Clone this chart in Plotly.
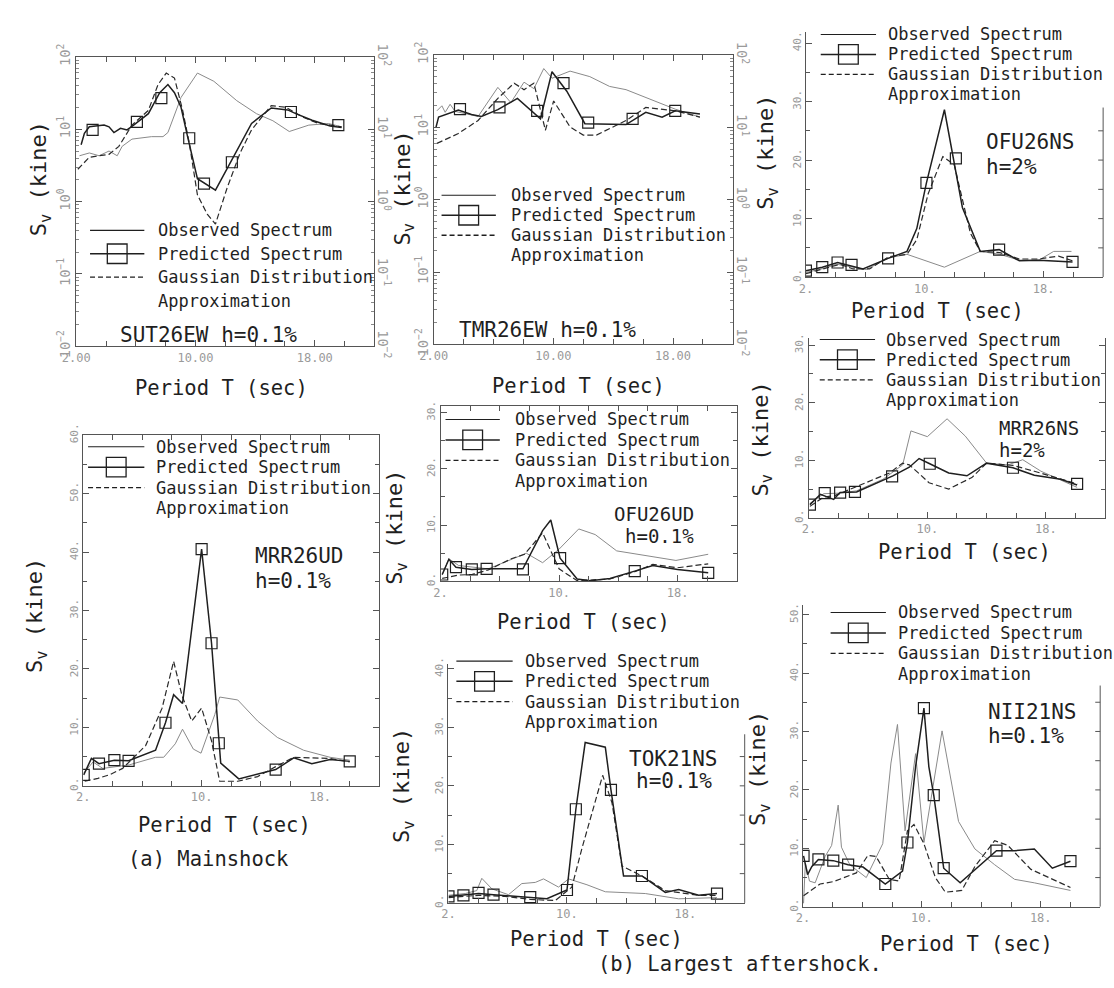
import plotly.graph_objects as go

W, H = 1114, 988
FONT = "DejaVu Sans Mono"
INK = "#1f1f1f"
OBS_C = "#8a8a8a"
AX_C = "#555555"
TICK_C = "#9a9a9a"

# ---------------- data (T in sec, Sv in kine) ----------------
# (a) Mainshock
sut_obs_T = [2.22, 2.88, 3.54, 4.20, 4.75, 5.08, 5.74, 7.05, 7.82, 8.15, 9.03, 10.13, 11.23, 12.77, 14.09, 15.19, 16.29, 17.60, 18.92, 19.80]
sut_obs_v = [4.3, 4.7, 4.3, 5.0, 4.3, 5.8, 7.3, 7.9, 7.9, 9.0, 27.5, 59.7, 46, 24.8, 16.4, 13.1, 9.3, 11.4, 12.0, 10.8]
sut_pred_T = [2.33, 2.55, 2.88, 3.87, 4.20, 4.53, 4.97, 5.41, 5.85, 6.84, 7.60, 8.15, 8.59, 9.03, 9.47, 10.13, 11.34, 12.33, 13.76, 15.08, 16.18, 16.73, 17.82, 19.03, 19.80]
sut_pred_v = [6.1, 8.8, 10.8, 11.4, 10.8, 9.0, 10.3, 9.8, 11.4, 16.4, 32, 41.5, 32, 20.1, 7.9, 2.07, 1.44, 3.5, 12.0, 19.7, 18.5, 16.4, 13.3, 11.1, 10.6]
sut_sq_T = [3.10, 6.07, 7.71, 9.58, 10.57, 12.44, 16.40, 19.58]
sut_sq_v = [9.8, 12.6, 26.9, 7.5, 1.77, 3.5, 17.3, 11.4]
sut_gau_T = [2.11, 2.88, 3.54, 4.20, 4.86, 5.74, 6.84, 7.49, 8.04, 8.59, 9.14, 9.58, 10.13, 10.79, 11.34, 12.11, 12.99, 13.76, 15.08, 16.07, 17.16, 18.26, 19.80]
sut_gau_v = [2.8, 4.1, 4.3, 4.5, 5.8, 11.4, 18.2, 41.5, 59.7, 51, 18.2, 6.5, 1.24, 0.67, 0.49, 1.52, 4.7, 9.8, 21.2, 20.1, 14.8, 12.0, 10.8]

tmr_obs_T = [2.22, 2.55, 2.77, 3.10, 3.43, 4.97, 6.29, 7.16, 8.04, 8.70, 9.36, 9.91, 11.12, 12.44, 13.76, 14.86, 18.15, 19.80]
tmr_obs_v = [16.9, 19.8, 16.1, 20.8, 16.6, 14.1, 35.6, 21.9, 42, 34.2, 64.8, 47.6, 59.7, 50.1, 36.7, 33.1, 17.8, 13.8]
tmr_pred_T = [2.15, 2.33, 3.65, 4.53, 5.19, 6.29, 7.60, 9.14, 9.91, 10.90, 12.11, 14.86, 16.18, 17.27, 18.15, 19.80]
tmr_pred_v = [9.9, 13.8, 17.3, 15.0, 14.1, 17.5, 25.1, 13.1, 58.5, 31.5, 11.2, 10.9, 16.1, 13.8, 16.9, 15.3]
tmr_sq_T = [3.76, 6.40, 8.92, 10.68, 12.33, 15.30, 18.15]
tmr_sq_v = [17.8, 18.8, 16.9, 40.7, 11.6, 13.1, 16.9]
tmr_gau_T = [2.22, 3.65, 4.97, 6.29, 7.38, 8.04, 8.70, 9.47, 10.02, 11.12, 12.0, 12.88, 14.86, 16.18, 18.15, 19.80]
tmr_gau_v = [6.0, 8.2, 12.4, 25.1, 40.7, 33.1, 40.7, 9.1, 23.1, 10.1, 7.8, 7.8, 12.4, 18.8, 16.9, 13.8]

mrrud_obs_T = [2.04, 2.67, 3.33, 4.22, 5.11, 6.89, 7.44, 8.22, 8.71, 9.44, 9.96, 10.89, 11.22, 12.44, 13.78, 15.11, 16.89, 18.67, 20.0]
mrrud_obs_v = [2.2, 4.1, 3.0, 3.3, 3.6, 4.9, 4.9, 7.2, 9.7, 6.3, 5.6, 12.2, 15.2, 14.7, 11.1, 8.3, 6.1, 4.9, 4.4]
mrrud_pred_T = [2.04, 2.56, 3.07, 4.11, 5.07, 6.89, 7.56, 8.11, 8.71, 10.0, 10.67, 11.16, 11.29, 12.51, 15.0, 16.22, 17.44, 18.67, 20.0]
mrrud_pred_v = [1.9, 4.7, 3.8, 4.4, 4.3, 6.1, 10.8, 15.6, 14.1, 40.5, 24.4, 7.3, 3.9, 1.2, 2.8, 4.8, 3.8, 4.5, 4.2]
mrrud_sq_T = [2.04, 3.07, 4.11, 5.07, 7.56, 10.0, 10.67, 11.16, 15.0, 20.0]
mrrud_sq_v = [1.9, 3.8, 4.4, 4.3, 10.8, 40.5, 24.4, 7.3, 2.8, 4.2]
mrrud_gau_T = [2.11, 3.0, 3.78, 4.67, 6.22, 7.33, 8.11, 8.67, 9.33, 10.0, 10.67, 11.22, 12.44, 13.78, 15.0, 16.22, 18.67, 20.0]
mrrud_gau_v = [0.8, 1.3, 1.9, 3.0, 6.9, 13.3, 21.3, 15.5, 11.1, 13.3, 7.7, 0.8, 0.8, 1.6, 3.3, 4.9, 4.7, 4.1]

# (b) Largest aftershock
ofuns_obs_T = [2.0, 3.21, 4.08, 5.18, 6.06, 7.59, 8.80, 11.32, 13.73, 15.05, 16.36, 17.68, 18.67, 19.87]
ofuns_obs_v = [0.8, 1.5, 2.2, 1.7, 1.3, 3.3, 3.9, 1.7, 4.4, 3.9, 2.9, 2.9, 4.4, 4.4]
ofuns_pred_T = [2.0, 3.10, 4.13, 5.07, 5.84, 7.53, 8.80, 9.46, 10.11, 11.32, 12.53, 13.73, 15.0, 16.36, 17.68, 19.94]
ofuns_pred_v = [1.1, 1.7, 2.5, 1.9, 1.4, 3.2, 4.4, 8.3, 16.1, 28.6, 11.9, 4.4, 4.7, 2.8, 2.9, 2.6]
ofuns_sq_T = [2.0, 3.10, 4.13, 5.07, 7.53, 10.11, 12.09, 15.0, 19.94]
ofuns_sq_v = [1.1, 1.7, 2.5, 2.1, 3.2, 16.1, 20.3, 4.7, 2.6]
ofuns_gau_T = [2.0, 3.21, 4.30, 5.18, 6.28, 7.59, 8.80, 9.46, 10.22, 11.21, 11.98, 13.07, 13.73, 15.05, 16.36, 17.68, 19.0, 19.94]
ofuns_gau_v = [0.6, 1.4, 2.2, 1.4, 1.4, 3.5, 3.9, 6.4, 14.2, 20.6, 19.2, 7.5, 4.4, 4.2, 3.1, 3.1, 3.6, 2.8]

ofuud_obs_T = [2.11, 2.56, 3.22, 5.22, 7.44, 7.78, 8.89, 10.0, 11.33, 12.44, 13.89, 15.67, 17.89, 20.07]
ofuud_obs_v = [1.1, 4.0, 2.8, 2.2, 4.6, 5.0, 3.3, 5.7, 9.3, 8.3, 5.4, 4.6, 3.7, 4.8]
ofuud_pred_T = [2.11, 2.56, 3.04, 4.11, 5.11, 7.56, 8.89, 9.44, 10.07, 11.22, 12.11, 13.44, 15.11, 16.33, 18.0, 20.07]
ofuud_pred_v = [1.2, 3.9, 2.5, 2.1, 2.2, 2.2, 9.0, 10.9, 4.1, 0.4, 0.1, 0.5, 1.8, 2.8, 2.1, 1.5]
ofuud_sq_T = [2.11, 3.04, 4.11, 5.11, 7.56, 10.07, 15.11, 20.07]
ofuud_sq_v = [1.2, 2.5, 2.1, 2.2, 2.1, 4.1, 1.8, 1.5]
ofuud_gau_T = [2.11, 3.22, 4.11, 5.22, 6.78, 7.67, 8.89, 10.0, 11.22, 13.44, 15.11, 16.33, 18.0, 20.07]
ofuud_gau_v = [0.5, 1.1, 1.2, 2.0, 4.0, 4.8, 8.6, 2.2, 0.1, 0.4, 1.7, 3.0, 2.4, 3.1]

mrrns_obs_T = [2.07, 3.0, 4.11, 5.22, 7.0, 8.33, 8.89, 10.0, 11.33, 12.56, 14.0, 15.44, 16.44, 17.67, 20.11]
mrrns_obs_v = [2.5, 4.2, 4.3, 4.7, 6.7, 9.2, 15.1, 14.1, 17.2, 14.2, 9.5, 9.2, 10.1, 8.1, 5.3]
mrrns_pred_T = [2.07, 2.78, 3.67, 4.11, 5.22, 7.67, 8.78, 9.44, 10.16, 11.44, 12.67, 14.0, 15.78, 17.22, 19.0, 20.11]
mrrns_pred_v = [2.3, 4.1, 3.2, 4.4, 4.5, 7.3, 8.8, 10.3, 9.4, 7.8, 7.3, 9.5, 8.7, 7.4, 6.7, 5.7]
mrrns_sq_T = [2.07, 3.07, 4.11, 5.11, 7.62, 10.16, 15.78, 20.11]
mrrns_sq_v = [2.3, 4.3, 4.4, 4.5, 7.2, 9.4, 8.7, 5.9]
mrrns_gau_T = [2.07, 3.0, 3.78, 4.33, 5.89, 7.44, 8.33, 8.78, 9.44, 10.11, 11.44, 13.0, 14.0, 15.78, 17.22, 19.0, 20.11]
mrrns_gau_v = [2.0, 3.6, 3.9, 4.5, 6.1, 7.8, 9.5, 9.2, 7.7, 6.1, 5.0, 7.0, 9.5, 9.1, 8.1, 6.7, 5.9]

tok_obs_T = [2.0, 3.13, 3.91, 4.25, 4.93, 6.05, 6.95, 7.86, 8.42, 9.43, 10.11, 11.35, 12.59, 15.29, 17.54, 20.13]
tok_obs_v = [1.3, 1.6, 2.1, 4.2, 2.4, 1.4, 3.3, 3.5, 4.1, 2.7, 4.1, 3.1, 1.9, 1.6, 0.7, 0.9]
tok_pred_T = [2.0, 3.01, 4.03, 5.04, 7.52, 8.64, 10.0, 10.60, 11.23, 12.59, 12.97, 13.82, 15.06, 16.64, 17.54, 18.89, 20.13]
tok_pred_v = [1.1, 1.3, 1.6, 1.4, 0.9, 0.7, 2.2, 16.0, 27.4, 26.6, 19.3, 4.6, 4.6, 1.8, 2.3, 1.3, 1.6]
tok_sq_T = [2.0, 3.01, 4.03, 5.04, 7.52, 10.0, 10.60, 12.97, 15.06, 20.13]
tok_sq_v = [1.1, 1.3, 1.7, 1.4, 1.0, 2.2, 16.0, 19.3, 4.6, 1.6]
tok_gau_T = [2.0, 4.03, 5.83, 7.52, 9.21, 10.33, 11.01, 11.68, 12.41, 13.04, 13.71, 15.06, 16.64, 18.89, 20.13]
tok_gau_v = [0.9, 1.3, 1.1, 0.6, 0.4, 2.7, 9.3, 15.4, 21.8, 17.1, 6.3, 4.6, 2.1, 1.3, 1.3]

nii_obs_T = [2.04, 2.16, 2.44, 2.82, 3.49, 3.93, 4.37, 4.59, 5.15, 6.26, 7.37, 7.92, 8.36, 8.87, 9.58, 10.14, 11.36, 12.47, 13.57, 14.90, 16.24, 17.57, 20.0]
nii_obs_v = [0.6, 7.5, 4.4, 4.1, 8.6, 10.5, 17.4, 10.2, 7.2, 5.0, 10.8, 24.6, 31.2, 13.0, 26.2, 11.0, 30.1, 14.6, 9.9, 7.2, 4.7, 4.1, 2.8]
nii_pred_T = [2.04, 2.31, 2.60, 3.04, 4.04, 5.04, 6.04, 7.54, 8.70, 9.03, 9.58, 10.14, 10.47, 10.80, 11.47, 12.58, 15.02, 16.24, 17.57, 18.78, 20.0]
nii_pred_v = [8.7, 5.5, 6.9, 8.1, 7.9, 7.2, 6.8, 3.9, 6.1, 11.0, 24.0, 34.0, 24.0, 19.1, 6.6, 4.1, 9.6, 9.6, 9.9, 6.6, 7.8]
nii_sq_T = [2.04, 3.04, 4.04, 5.04, 7.54, 9.03, 10.14, 10.80, 11.47, 15.02, 20.0]
nii_sq_v = [8.7, 8.1, 7.9, 7.2, 3.9, 11.0, 34.0, 19.1, 6.6, 9.6, 7.8]
nii_gau_T = [2.04, 2.38, 3.15, 4.04, 5.59, 6.37, 6.92, 7.81, 8.47, 9.03, 9.47, 10.14, 10.91, 11.58, 12.69, 13.57, 14.90, 15.79, 17.34, 20.0]
nii_gau_v = [1.9, 2.5, 3.9, 4.3, 5.8, 8.8, 8.6, 4.7, 4.4, 13.0, 14.1, 10.8, 5.0, 2.5, 2.8, 6.9, 11.3, 10.5, 6.4, 3.3]

x_tick_vals = [2, 10, 18]
legend_labels = ["Observed Spectrum", "Predicted Spectrum", "Gaussian Distribution", "Approximation"]
x_title = "Period T (sec)"
y_title = "S<sub>v</sub> (kine)"

# ---------------- layout description (pixels) ----------------
# lab = (x, y of first line, anchor, line spacing, font size)
# rseg: top pixel of a partial right-hand frame line (None = no extra segment)
PANELS = [
    dict(station=["SUT26EW h=0.1%"], log=True, box=(63, 45, 365, 342), yr=(-2, 2),
         data=(sut_obs_T, sut_obs_v, sut_pred_T, sut_pred_v, sut_sq_T, sut_sq_v, sut_gau_T, sut_gau_v),
         leg=(77, 132, 146, 223, 24), lab=(197, 330, "center", 26, 21),
         xt=(210, 385), yt=(27, 170), mx=True, my=True, rseg=None),
    dict(station=["TMR26EW h=0.1%"], log=True, box=(425, 43, 728, 340), yr=(-2, 2),
         data=(tmr_obs_T, tmr_obs_v, tmr_pred_T, tmr_pred_v, tmr_sq_T, tmr_sq_v, tmr_gau_T, tmr_gau_v),
         leg=(433, 488, 503, 187, 20.5), lab=(540, 325, "center", 26, 21),
         xt=(572, 383), yt=(395, 180), mx=True, my=True, rseg=None),
    dict(station=["OFU26NS", "h=2%"], log=False, box=(802, 20, 1103, 271), yr=(0, 41.8),
         data=(ofuns_obs_T, ofuns_obs_v, ofuns_pred_T, ofuns_pred_v, ofuns_sq_T, ofuns_sq_v, ofuns_gau_T, ofuns_gau_v),
         leg=(817, 873, 885, 22, 20.5), lab=(983, 132, "left", 26, 21),
         xt=(935, 306), yt=(763, 143), mx=False, my=False, rseg=97),
    dict(station=["MRR26UD", "h=0.1%"], log=False, box=(70, 433, 370, 793), yr=(0, 60),
         data=(mrrud_obs_T, mrrud_obs_v, mrrud_pred_T, mrrud_pred_v, mrrud_sq_T, mrrud_sq_v, mrrud_gau_T, mrrud_gau_v),
         leg=(75, 132, 144, 445, 21), lab=(243, 557, "left", 26, 21),
         xt=(213, 833), yt=(23, 618), mx=True, my=True, rseg=None),
    dict(station=["OFU26UD", "h=0.1%"], log=False, box=(432, 403, 732, 583), yr=(0, 31.2),
         data=(ofuud_obs_T, ofuud_obs_v, ofuud_pred_T, ofuud_pred_v, ofuud_sq_T, ofuud_sq_v, ofuud_gau_T, ofuud_gau_v),
         leg=(437, 492, 507, 417, 21), lab=(690, 514, "right", 23, 19),
         xt=(577, 625), yt=(388, 528), mx=True, my=True, rseg=None),
    dict(station=["MRR26NS", "h=2%"], log=False, box=(805, 333, 1105, 518), yr=(0, 31.3),
         data=(mrrns_obs_T, mrrns_obs_v, mrrns_pred_T, mrrns_pred_v, mrrns_sq_T, mrrns_sq_v, mrrns_gau_T, mrrns_gau_v),
         leg=(816, 872, 883, 335, 20.7), lab=(997, 426, "left", 22, 19),
         xt=(963, 553), yt=(758, 437), mx=False, my=True, rseg=None),
    dict(station=["TOK21NS", "h=0.1%"], log=False, box=(440, 668, 740, 913), yr=(0, 40.8),
         data=(tok_obs_T, tok_obs_v, tok_pred_T, tok_pred_v, tok_sq_T, tok_sq_v, tok_gau_T, tok_gau_v),
         leg=(448, 505, 518, 665, 20.7), lab=(668, 765, "center", 23, 21),
         xt=(590, 950), yt=(395, 793), mx=False, my=False, rseg=740),
    dict(station=["NII21NS", "h=0.1%"], log=False, box=(799, 607, 1100, 917), yr=(0, 51.7),
         data=(nii_obs_T, nii_obs_v, nii_pred_T, nii_pred_v, nii_sq_T, nii_sq_v, nii_gau_T, nii_gau_v),
         leg=(827, 883, 895, 615, 21), lab=(985, 717, "left", 25, 21),
         xt=(965, 955), yt=(755, 775), mx=False, my=False, rseg=690),
]


def fx(x):
    return x / W


def fy(y):
    return 1 - y / H


fig = go.Figure()
annotations = []
shapes = []
layout_axes = {}
LOG_ALIAS = {"1": "10<sup>0</sup>", "10": "10<sup>1</sup>"}

for i, p in enumerate(PANELS, start=1):
    xr = "x" if i == 1 else f"x{i}"
    yr_ = "y" if i == 1 else f"y{i}"
    xa = "xaxis" if i == 1 else f"xaxis{i}"
    ya = "yaxis" if i == 1 else f"yaxis{i}"
    x0, y0, x1, y1 = p["box"]
    obsT, obsV, prT, prV, sqT, sqV, gaT, gaV = p["data"]

    fig.add_trace(go.Scatter(x=obsT, y=obsV, xaxis=xr, yaxis=yr_, mode="lines",
                             line=dict(color=OBS_C, width=1), name="Observed Spectrum", showlegend=False))
    fig.add_trace(go.Scatter(x=gaT, y=gaV, xaxis=xr, yaxis=yr_, mode="lines",
                             line=dict(color="#2a2a2a", width=1.2, dash="6px,3px"),
                             name="Gaussian Distribution Approximation", showlegend=False))
    fig.add_trace(go.Scatter(x=prT, y=prV, xaxis=xr, yaxis=yr_, mode="lines",
                             line=dict(color=INK, width=1.5), name="Predicted Spectrum", showlegend=False))
    fig.add_trace(go.Scatter(x=sqT, y=sqV, xaxis=xr, yaxis=yr_, mode="markers",
                             marker=dict(symbol="square-open", size=11, color=INK, line=dict(width=1.2)),
                             name="Predicted Spectrum", showlegend=False))

    if p["log"]:
        xtext = [f"{v:.2f}" for v in x_tick_vals]
    else:
        xtext = [f"{v}." for v in x_tick_vals]
    xdict = dict(domain=[fx(x0), fx(x1)], anchor=yr_, range=[2, 22],
                 tickmode="array", tickvals=x_tick_vals, ticktext=xtext,
                 ticks="inside", ticklen=6, tickcolor=AX_C,
                 minor=dict(tickmode="linear", tick0=2, dtick=2, ticks="inside", ticklen=5, tickcolor=AX_C),
                 showline=True, linecolor=AX_C, linewidth=1,
                 mirror="ticks" if p["mx"] else False,
                 showgrid=False, zeroline=False,
                 tickfont=dict(family=FONT, size=12, color=TICK_C))
    layout_axes[xa] = xdict

    ydict = dict(domain=[fy(y1), fy(y0)], anchor=xr,
                 showline=True, linecolor=AX_C, linewidth=1,
                 mirror="ticks" if p["my"] else False,
                 showgrid=False, zeroline=False, tickangle=-90,
                 ticks="inside", ticklen=6, tickcolor=AX_C,
                 tickfont=dict(family=FONT, size=11, color=TICK_C))
    if p["log"]:
        ydict.update(type="log", range=list(p["yr"]), dtick=1, exponentformat="power",
                     labelalias=LOG_ALIAS,
                     minor=dict(dtick="D1", ticks="inside", ticklen=3, tickcolor="#888"))
    else:
        ydict.update(range=list(p["yr"]), tick0=0, dtick=10, ticksuffix=".",
                     minor=dict(tick0=0, dtick=5, ticks="inside", ticklen=4, tickcolor=AX_C))
    layout_axes[ya] = ydict

    # partial right-hand frame line over the lower part of the panel (in the panel's own y units)
    if p["rseg"] is not None:
        ppu = (y1 - y0) / (p["yr"][1] - p["yr"][0])
        top_val = (y1 - p["rseg"]) / ppu
        shapes.append(dict(type="line", xref=f"{xr} domain", yref=yr_, x0=1, x1=1, y0=0, y1=top_val,
                           line=dict(color=AX_C, width=1)))
        tick_frac = 5 / (x1 - x0)
        v = 5
        while v < top_val:
            shapes.append(dict(type="line", xref=f"{xr} domain", yref=yr_, x0=1 - tick_frac, x1=1,
                               y0=v, y1=v, line=dict(color=AX_C, width=1)))
            v += 5

    # legend block
    sx0, sx1, tx, ly, dy = p["leg"]
    lys = [ly + k * dy for k in range(4)]
    for k, txt in enumerate(legend_labels):
        annotations.append(dict(x=fx(tx), y=fy(lys[k]), xref="paper", yref="paper", text=txt,
                                showarrow=False, xanchor="left", yanchor="middle", xshift=-2,
                                font=dict(family=FONT, size=17, color=INK)))
    shapes.append(dict(type="line", xref="paper", yref="paper", x0=fx(sx0), x1=fx(sx1),
                       y0=fy(lys[0]), y1=fy(lys[0]), line=dict(color=INK, width=1.1)))
    shapes.append(dict(type="line", xref="paper", yref="paper", x0=fx(sx0), x1=fx(sx1),
                       y0=fy(lys[1]), y1=fy(lys[1]), line=dict(color=INK, width=1.5)))
    cx = (sx0 + sx1) / 2
    shapes.append(dict(type="rect", xref="paper", yref="paper", x0=fx(cx - 10), x1=fx(cx + 10),
                       y0=fy(lys[1] + 10), y1=fy(lys[1] - 10), line=dict(color=INK, width=1.3),
                       fillcolor="rgba(0,0,0,0)"))
    shapes.append(dict(type="line", xref="paper", yref="paper", x0=fx(sx0), x1=fx(sx1),
                       y0=fy(lys[2]), y1=fy(lys[2]), line=dict(color=INK, width=1.3, dash="5px,3px")))

    # station labels
    lx, lyy, al, ldy, lfs = p["lab"]
    for k, txt in enumerate(p["station"]):
        annotations.append(dict(x=fx(lx), y=fy(lyy + k * ldy), xref="paper", yref="paper", text=txt,
                                showarrow=False, xanchor=al, yanchor="middle", borderpad=0,
                                font=dict(family=FONT, size=lfs, color=INK)))
    # axis titles
    annotations.append(dict(x=fx(p["xt"][0]), y=fy(p["xt"][1]), xref="paper", yref="paper", text=x_title,
                            showarrow=False, xanchor="center", yanchor="middle",
                            font=dict(family=FONT, size=20.5, color=INK)))
    annotations.append(dict(x=fx(p["yt"][0]), y=fy(p["yt"][1]), xref="paper", yref="paper", text=y_title,
                            showarrow=False, xanchor="center", yanchor="middle", textangle=-90,
                            font=dict(family=FONT, size=22, color=INK)))

# mirrored right-hand labels of the two log panels
for name, ref, over, anc in (("yaxis9", "y9", "y", "x"), ("yaxis10", "y10", "y2", "x2")):
    layout_axes[name] = dict(overlaying=over, side="right", anchor=anc, type="log", range=[-2, 2], dtick=1,
                             exponentformat="power", labelalias=LOG_ALIAS,
                             tickangle=90, showline=False, showgrid=False, zeroline=False, ticks="",
                             tickfont=dict(family=FONT, size=11, color=TICK_C))
    fig.add_trace(go.Scatter(x=[], y=[], xaxis=anc, yaxis=ref, mode="lines",
                             showlegend=False, hoverinfo="skip"))

annotations.append(dict(x=fx(197), y=fy(868), xref="paper", yref="paper", text="(a) Mainshock",
                        showarrow=False, xanchor="center", yanchor="middle",
                        font=dict(family=FONT, size=20.5, color=INK)))
annotations.append(dict(x=fx(735), y=fy(976), xref="paper", yref="paper", text="(b) Largest aftershock.",
                        showarrow=False, xanchor="center", yanchor="middle",
                        font=dict(family=FONT, size=20.5, color=INK)))

fig.update_layout(width=W, height=H, margin=dict(l=0, r=0, t=0, b=0),
                  paper_bgcolor="white", plot_bgcolor="white", showlegend=False,
                  annotations=annotations, shapes=shapes, **layout_axes)

fig.write_html("out.html")
